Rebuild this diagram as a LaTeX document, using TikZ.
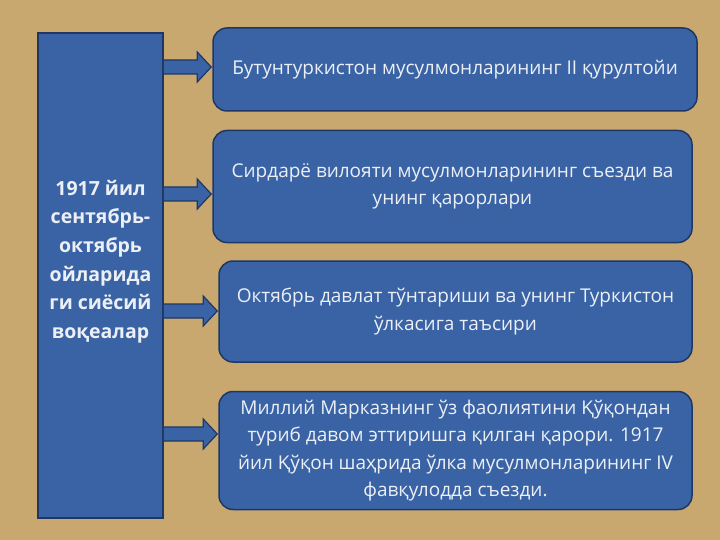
\documentclass[tikz,border=0pt]{standalone}
\usepackage{fontspec}
\setmainfont{Open Sans}
\usetikzlibrary{positioning, calc}

\definecolor{bgtan}{RGB}{201,168,112}
\definecolor{boxblue}{RGB}{58,99,165}
\definecolor{boxedge}{RGB}{30,55,100}
\definecolor{txtlight}{RGB}{236,240,246}

% block arrow from the side bar to an event box: #1 = height, #2 = target
\newcommand{\blockarrow}[2]{%
  \draw[blockarr] ($(yr.east |- 0,#1)+(0,-7)$) -- ($(#2.west |- 0,#1)+(-15,-7)$)
    -- ++(0,-8) -- ($(#2.west |- 0,#1)+(-1,0)$) -- ($(#2.west |- 0,#1)+(-15,15)$)
    -- ++(0,-8) -- ($(yr.east |- 0,#1)+(0,7)$);}

\begin{document}
\begin{tikzpicture}[
    x=1pt, y=-1pt,
    sidebar/.style={draw=boxedge, line width=1.5pt, fill=boxblue,
                    minimum width=125pt, minimum height=485pt},
    sidetext/.style={text=txtlight, align=center,
                     font=\fontsize{19.5}{28.6}\selectfont\bfseries},
    event/.style={draw=boxedge, line width=1.5pt, fill=boxblue, text=txtlight,
                  rounded corners=14pt, align=center, inner sep=0pt,
                  font=\fontsize{19}{27.3}\selectfont},
    blockarr/.style={draw=boxedge, line width=1.2pt, fill=boxblue, line join=miter}
  ]
  \fill[bgtan] (0,0) rectangle (720,540);
  \useasboundingbox (0,0) rectangle (720,540);

  \node[sidebar] (yr) at (100.5,275.5) {};
  \node[sidetext] (yrtext) at ($(yr.center)+(0,-14)$)
    {1917 йил\\сентябрь-\\октябрь\\ойларида\\ги сиёсий\\воқеалар};

  \node[event, minimum width=484pt, minimum height=83pt] (e1) at (455,69.5)
    {Бутунтуркистон мусулмонларининг II қурултойи};
  \node[event, minimum width=479pt, minimum height=112pt, below=18pt of e1,
        xshift=-2.5pt] (e2)
    {Сирдарё вилояти мусулмонларининг съезди ва\\унинг қарорлари};
  \node[event, minimum width=473pt, minimum height=101pt, below=17pt of e2,
        xshift=3pt] (e3)
    {Октябрь давлат тўнтариши ва унинг Туркистон\\ўлкасига таъсири};
  \node[event, minimum width=473pt, minimum height=118pt, below=28pt of e3] (e4)
    {Миллий Марказнинг ўз фаолиятини Қўқондан\\туриб давом эттиришга қилган қарори. 1917\\йил Қўқон шаҳрида ўлка мусулмонларининг IV\\фавқулодда съезди.};

  \blockarrow{67}{e1}
  \blockarrow{194}{e2}
  \blockarrow{311}{e3}
  \blockarrow{434}{e4}
\end{tikzpicture}
\end{document}
